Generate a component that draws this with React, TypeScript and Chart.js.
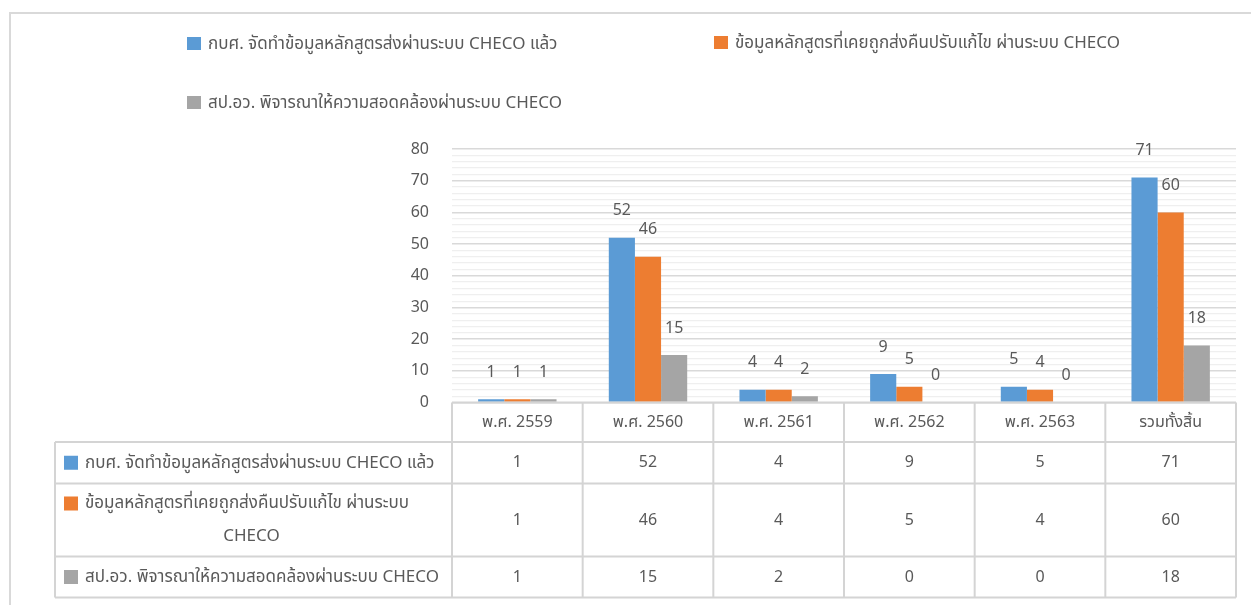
import React, { useEffect, useRef } from "react";
import { Chart, registerables } from "chart.js";

Chart.register(...registerables);

const categories = ["พ.ศ. 2559", "พ.ศ. 2560", "พ.ศ. 2561", "พ.ศ. 2562", "พ.ศ. 2563", "รวมทั้งสิ้น"];
const seriesNames = [
  "กบศ. จัดทำข้อมูลหลักสูตรส่งผ่านระบบ CHECO แล้ว",
  "ข้อมูลหลักสูตรที่เคยถูกส่งคืนปรับแก้ไข ผ่านระบบ CHECO",
  "สป.อว. พิจารณาให้ความสอดคล้องผ่านระบบ CHECO",
];
const seriesSubmitted = [1, 52, 4, 9, 5, 71];
const seriesReturned = [1, 46, 4, 5, 4, 60];
const seriesApproved = [1, 15, 2, 0, 0, 18];
const tableLabelLines = [
  ["กบศ. จัดทำข้อมูลหลักสูตรส่งผ่านระบบ CHECO แล้ว"],
  ["ข้อมูลหลักสูตรที่เคยถูกส่งคืนปรับแก้ไข ผ่านระบบ", "CHECO"],
  ["สป.อว. พิจารณาให้ความสอดคล้องผ่านระบบ CHECO"],
];
const colors = ["#5B9BD5", "#ED7D31", "#A5A5A5"];

const FONT = '"Noto Sans", "Noto Sans Thai", "Leelawadee UI", Tahoma, sans-serif';
const TEXT = "#595959";
const LINE = "#d9d9d9";

const W = 1251;
const H = 605;

const overlayPlugin = {
  id: "overlay",
  afterDatasetsDraw(chart: any) {
    const ctx = chart.ctx;
    ctx.save();
    ctx.font = `16px ${FONT}`;
    ctx.fillStyle = TEXT;
    ctx.textAlign = "center";
    ctx.textBaseline = "middle";
    chart.data.datasets.forEach((ds: any, di: number) => {
      const meta = chart.getDatasetMeta(di);
      meta.data.forEach((bar: any, i: number) => {
        ctx.fillText(String(ds.data[i]), bar.x, bar.y - 27);
      });
    });
    ctx.restore();
  },
  afterDraw(chart: any) {
    const ctx = chart.ctx;
    const xs = chart.scales.x;
    const area = chart.chartArea;
    ctx.save();

    // outer frame
    ctx.strokeStyle = LINE;
    ctx.lineWidth = 2;
    ctx.beginPath();
    ctx.moveTo(10, H);
    ctx.lineTo(10, 13);
    ctx.lineTo(W, 13);
    ctx.stroke();

    // legend
    ctx.font = `17px ${FONT}`;
    ctx.textBaseline = "middle";
    ctx.textAlign = "left";
    const legendPos = [
      [187, 44],
      [714, 43],
      [187, 103],
    ];
    chart.data.datasets.forEach((ds: any, di: number) => {
      const [lx, ly] = legendPos[di];
      ctx.fillStyle = ds.backgroundColor;
      ctx.fillRect(lx, ly - 7, 14, 13);
      ctx.fillStyle = TEXT;
      ctx.fillText(ds.label, lx + 21, ly);
    });

    // data table
    const left = area.left;
    const right = area.right;
    const top = area.bottom;
    const rowY = [top, 442, 483.5, 556.5, 597.5];
    const labelLeft = 55;
    ctx.strokeStyle = "#d4d4d4";
    ctx.lineWidth = 2;
    ctx.beginPath();
    ctx.moveTo(left, rowY[0]);
    ctx.lineTo(right, rowY[0]);
    for (let r = 1; r < rowY.length; r++) {
      ctx.moveTo(labelLeft, rowY[r]);
      ctx.lineTo(right, rowY[r]);
    }
    ctx.moveTo(labelLeft, rowY[1]);
    ctx.lineTo(labelLeft, rowY[4]);
    const n = categories.length;
    const half = (xs.getPixelForValue(1) - xs.getPixelForValue(0)) / 2;
    for (let i = 0; i < n; i++) {
      const bx = xs.getPixelForValue(i) - half;
      ctx.moveTo(bx, rowY[0]);
      ctx.lineTo(bx, rowY[4]);
    }
    ctx.moveTo(right, rowY[0]);
    ctx.lineTo(right, rowY[4]);
    ctx.stroke();

    ctx.fillStyle = TEXT;
    ctx.textAlign = "center";
    ctx.font = `16px ${FONT}`;
    categories.forEach((c, i) => {
      ctx.fillText(c, xs.getPixelForValue(i), (rowY[0] + rowY[1]) / 2);
    });
    chart.data.datasets.forEach((ds: any, di: number) => {
      const cy = (rowY[di + 1] + rowY[di + 2]) / 2;
      ctx.font = `16px ${FONT}`;
      ctx.textAlign = "center";
      ctx.fillStyle = TEXT;
      ds.data.forEach((v: number, i: number) => {
        ctx.fillText(String(v), xs.getPixelForValue(i), cy);
      });
      ctx.font = `17px ${FONT}`;
      const lines = tableLabelLines[di];
      const colCenter = (labelLeft + left) / 2;
      const lineGap = 33;
      const firstY = cy - ((lines.length - 1) * lineGap) / 2;
      lines.forEach((ln, li) => {
        const ly = firstY + li * lineGap;
        if (li === 0) {
          const sx = 64;
          ctx.fillStyle = ds.backgroundColor;
          ctx.fillRect(sx, ly - 7, 14, 14);
          ctx.fillStyle = TEXT;
          ctx.textAlign = "left";
          ctx.fillText(ln, sx + 21, ly);
        } else {
          ctx.fillStyle = TEXT;
          ctx.textAlign = "center";
          ctx.fillText(ln, colCenter - 2, ly);
        }
      });
    });
    ctx.restore();
  },
};

export default function App() {
  const ref = useRef<HTMLCanvasElement | null>(null);
  useEffect(() => {
    if (!ref.current) return;
    const chart = new Chart(ref.current, {
      type: "bar",
      data: {
        labels: categories,
        datasets: [seriesSubmitted, seriesReturned, seriesApproved].map((d, i) => ({
          label: seriesNames[i],
          data: d,
          backgroundColor: colors[i],
          borderWidth: 0,
          categoryPercentage: 0.6,
          barPercentage: 1.0,
        })),
      },
      options: {
        responsive: false,
        animation: false,
        layout: { padding: { left: 0, right: 15, top: 149, bottom: 202.5 } },
        plugins: { legend: { display: false }, tooltip: { enabled: false } },
        scales: {
          x: { display: false },
          y: {
            min: 0,
            max: 80,
            afterFit: (axis: any) => {
              axis.width = 452;
            },
            border: { display: false },
            grid: {
              drawTicks: false,
              color: (c: any) => (c.tick && c.tick.value % 10 === 0 ? "#d9d9d9" : "#efefef"),
              lineWidth: (c: any) => (c.tick && c.tick.value % 10 === 0 ? 1.5 : 1.2),
            },
            ticks: {
              stepSize: 2,
              autoSkip: false,
              padding: 23,
              color: TEXT,
              font: { family: FONT, size: 16 },
              callback: (v: any) => (Number(v) % 10 === 0 ? String(v) : ""),
            },
          },
        },
      },
      plugins: [overlayPlugin],
    });
    return () => chart.destroy();
  }, []);
  return (
    <div style={{ position: "fixed", left: 0, top: 0, width: W, height: H, background: "#fff" }}>
      <canvas ref={ref} width={W} height={H} style={{ display: "block" }} />
    </div>
  );
}
